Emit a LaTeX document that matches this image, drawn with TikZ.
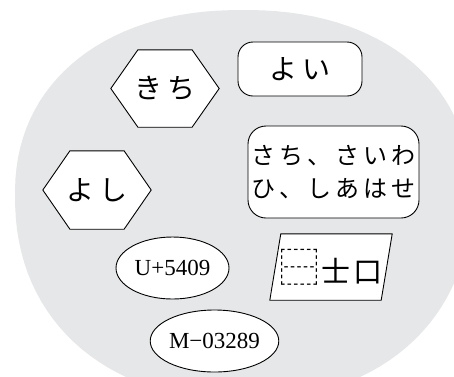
\documentclass[tikz,border=0pt]{standalone}
\usepackage{fontspec}
\newfontfamily\jp{Noto Sans CJK JP}
\newfontfamily\lat{Liberation Serif}
\usetikzlibrary{shapes.geometric,calc,backgrounds}
\definecolor{bggray}{RGB}{230,231,232}
\newcommand\hexaround[1]{%
  \draw[outline] (#1.west) -- ($(#1.north west)!.25!(#1.north east)$) -- ($(#1.north west)!.75!(#1.north east)$) -- (#1.east) -- ($(#1.south west)!.75!(#1.south east)$) -- ($(#1.south west)!.25!(#1.south east)$) -- cycle;}
\begin{document}
\begin{tikzpicture}[x=1pt,y=-1pt,
  outline/.style={draw, line width=0.9pt, fill=white},
  jbig/.style={font=\jp\fontsize{28}{32}\selectfont\addfontfeature{LetterSpace=20}},
  jmid/.style={font=\jp\fontsize{24}{33}\selectfont\addfontfeature{LetterSpace=17}},
  jglyph/.style={font=\jp\fontsize{29}{32}\selectfont},
  latin/.style={font=\lat\fontsize{23}{26}\selectfont},
  plain/.style={inner sep=0pt, align=center},
  hexnode/.style={plain, jbig, minimum width=108pt, minimum height=77pt},
  roundbox/.style={plain, outline},
  oval/.style={plain, outline, ellipse, latin, minimum width=113pt, minimum height=62pt},
]
\useasboundingbox (0,0) rectangle (454,376);
\begin{scope}[on background layer]
  \clip (0,0) rectangle (454,376);
  \fill[bggray] plot[domain=1:361, samples=121, variable=\t]
    ({243+228*sign(cos(\t))*abs(cos(\t))^0.909},
     {195+(sin(\t)>0 ? 205 : 185)*sign(sin(\t))*abs(sin(\t))^0.909}) -- cycle;
\end{scope}

% hexagons
\node[hexnode] (kichi) at (165,88.5) {きち};
\node[hexnode, minimum height=78pt] (yoshi) at (97,190) {よし};
\begin{scope}[on background layer]
  \hexaround{kichi}
  \hexaround{yoshi}
\end{scope}

% rounded boxes
\node[roundbox, jbig, rounded corners=15pt, minimum width=124pt, minimum height=54pt] (yoi) at (300,69) {よい};
\node[roundbox, jmid, rounded corners=18pt, minimum width=171pt, minimum height=92pt] (sachi) at (333.5,172) {さち、さいわ\\ひ、しあはせ};

% ellipses
\node[oval] (ucode) at (172.5,268) {U+5409};
\node[oval, minimum width=115pt] (mcode) at (214.5,341) {M−03289};

% parallelogram
\node[plain, jglyph, minimum width=111pt, minimum height=66pt] (ids) at (331,267) {{\fontsize{40}{40}\selectfont ⿱}\kern1.5pt 士\kern3pt 口};
\begin{scope}[on background layer]
  \draw[outline] ([xshift=5.5pt]ids.north west) -- ([xshift=5.5pt]ids.north east) -- ([xshift=-5.5pt]ids.south east) -- ([xshift=-5.5pt]ids.south west) -- cycle;
\end{scope}
\end{tikzpicture}
\end{document}
